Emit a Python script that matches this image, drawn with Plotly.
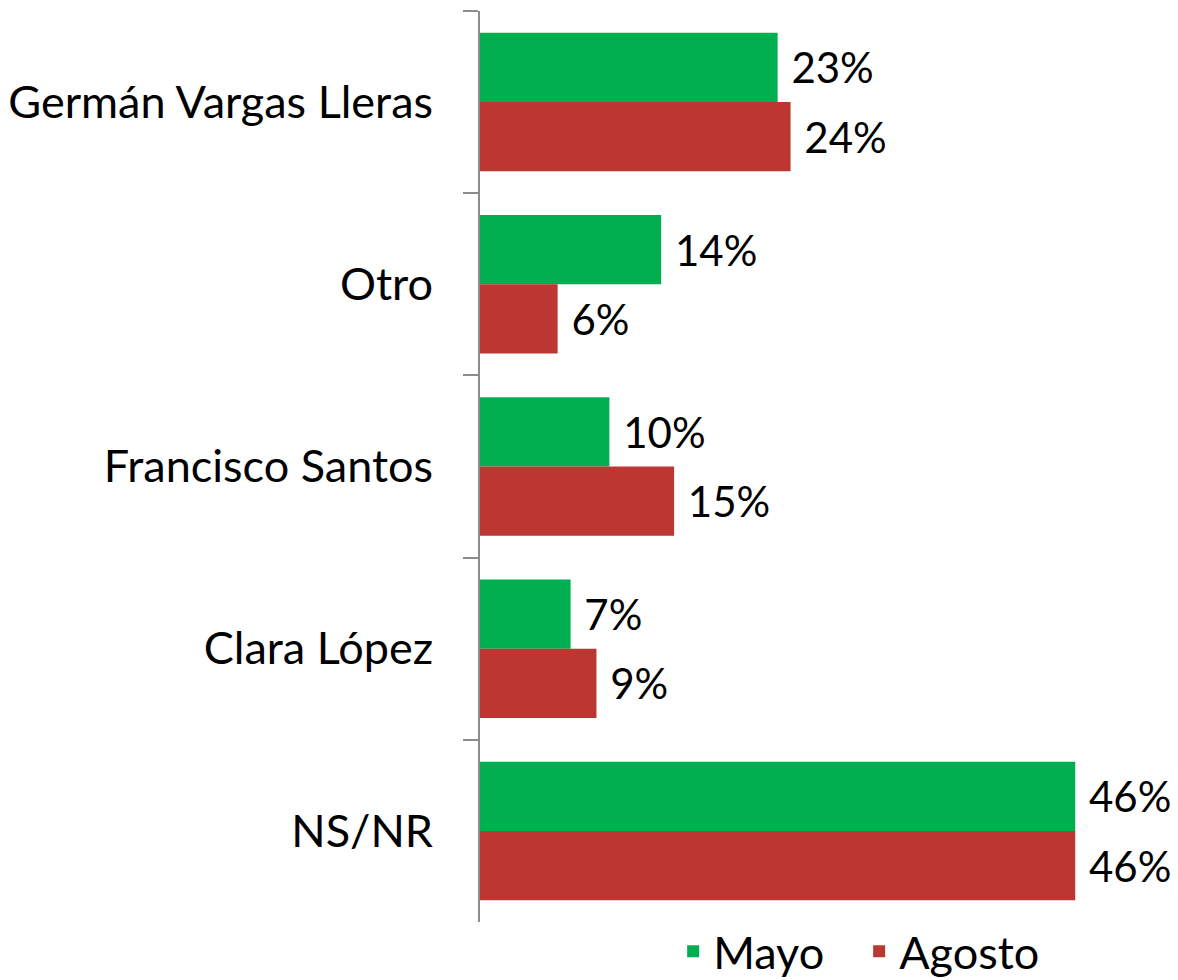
import plotly.graph_objects as go

categories = ["Germán Vargas Lleras", "Otro", "Francisco Santos", "Clara López", "NS/NR"]
mayo = [23, 14, 10, 7, 46]
agosto = [24, 6, 15, 9, 46]
series_names = ["Mayo", "Agosto"]

FONT = "Lato"
NB = "\u00a0"

fig = go.Figure()
fig.add_trace(go.Bar(
    y=categories, x=mayo, orientation="h", name=series_names[0],
    marker=dict(color="#00B050", line=dict(width=0)),
    text=[f"{NB}{v}%" for v in mayo], textposition="outside",
    textfont=dict(size=42, color="#000000", family=FONT), cliponaxis=False,
))
fig.add_trace(go.Bar(
    y=categories, x=agosto, orientation="h", name=series_names[1],
    marker=dict(color="#BC3632", line=dict(width=0)),
    text=[f"{NB}{v}%" for v in agosto], textposition="outside",
    textfont=dict(size=42, color="#000000", family=FONT), cliponaxis=False,
))

fig.update_layout(
    width=1178, height=980,
    margin=dict(l=480, r=51, t=11, b=58, autoexpand=False),
    paper_bgcolor="white", plot_bgcolor="white",
    barmode="group", bargap=0.24, bargroupgap=0,
    font=dict(family=FONT, color="#000000", size=45),
    showlegend=True,
    legend=dict(orientation="h", x=0.586, xanchor="center", yref="paper", y=0.007, yanchor="top",
                entrywidth=141, entrywidthmode="pixels",
                font=dict(size=45, family=FONT, color="#000000"), traceorder="normal"),
)
fig.update_xaxes(range=[0, 50], visible=False, showgrid=False, zeroline=False)
fig.update_yaxes(
    categoryorder="array", categoryarray=categories, autorange="reversed",
    showline=True, linecolor="#8C8C8C", linewidth=2, automargin=False,
    ticks="outside", tickson="boundaries", ticklen=15, tickcolor="#8C8C8C", tickwidth=2,
    tickfont=dict(size=45, family=FONT, color="#000000"), ticklabelstandoff=36,
    showgrid=False, zeroline=False,
)

fig.write_html("out.html", config={"displayModeBar": False},
               post_script="document.body.style.margin='0';")
